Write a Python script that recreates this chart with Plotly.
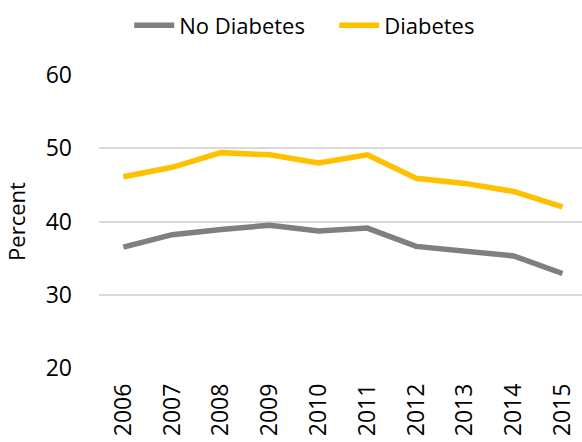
import plotly.graph_objects as go

years = ["2006", "2007", "2008", "2009", "2010", "2011", "2012", "2013", "2014", "2015"]
no_diabetes = [36.5, 38.2, 38.9, 39.5, 38.7, 39.1, 36.6, 35.9, 35.3, 32.9]
diabetes = [46.1, 47.4, 49.4, 49.1, 48.0, 49.1, 45.9, 45.2, 44.1, 42.0]
y_ticks = [20, 30, 40, 50, 60]

FONT = "Open Sans, Liberation Sans, sans-serif"

fig = go.Figure()
fig.add_trace(go.Scatter(x=years, y=no_diabetes, mode="lines", name="No Diabetes",
                         line=dict(color="#7F7F7F", width=5.5)))
fig.add_trace(go.Scatter(x=years, y=diabetes, mode="lines", name="Diabetes",
                         line=dict(color="#FFC000", width=5.5)))

fig.update_layout(
    width=582, height=442,
    margin=dict(l=99, r=0, t=75, b=74),
    paper_bgcolor="white", plot_bgcolor="white",
    font=dict(family=FONT, size=22, color="#000000"),
    showlegend=True,
    legend=dict(orientation="h", x=0.222, y=0.99, xref="container", yref="container",
                xanchor="left", yanchor="top", font=dict(size=22),
                itemwidth=40, entrywidth=150, entrywidthmode="pixels",
                tracegroupgap=0, bgcolor="rgba(0,0,0,0)"),
    xaxis=dict(type="category", range=[-0.5, 9.4], showgrid=False, zeroline=False,
               showline=False, ticks="", tickangle=-90, ticklabelstandoff=10,
               tickfont=dict(size=23)),
    yaxis=dict(range=[20, 60], tickvals=y_ticks, showgrid=True, gridcolor="#D9D9D9",
               gridwidth=1.5, zeroline=False, showline=False, ticks="",
               ticklabelstandoff=26,
               title=dict(text="Percent", standoff=13, font=dict(size=22)),
               tickfont=dict(size=23)),
)

fig.write_html("out.html")
